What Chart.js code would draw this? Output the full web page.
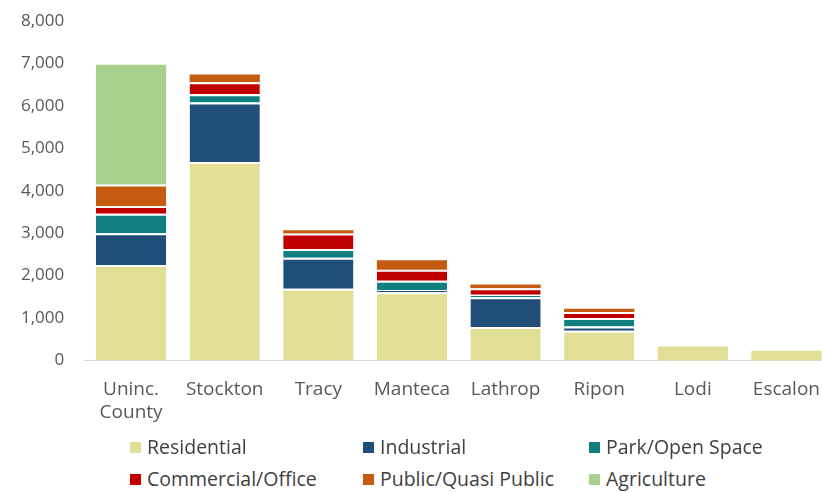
<!DOCTYPE html>
<html>
<head>
<meta charset="utf-8">
<script src="https://cdn.jsdelivr.net/npm/chart.js@4"></script>
<style>
  html, body { margin: 0; padding: 0; background: #fff; overflow: hidden; }
  #wrap { position: relative; top: -9px; width: 838px; height: 455px; }
  #legend {
    position: absolute; left: 0; top: 433px; width: 822px;
    font-family: "Open Sans", sans-serif; font-size: 19.5px; color: #404040;
  }
  .item { position: absolute; white-space: nowrap; }
  .box { display: inline-block; width: 11px; height: 11px; margin-right: 6px; vertical-align: 1px; }
</style>
</head>
<body>
<div id="wrap"><canvas id="myChart"></canvas></div>
<div id="legend"></div>
<script>
// acres by jurisdiction
var labels = [['Uninc.', 'County'], 'Stockton', 'Tracy', 'Manteca', 'Lathrop', 'Ripon', 'Lodi', 'Escalon'];
var residential = [2250, 4680, 1690, 1610, 790, 700, 330, 230];
var industrial  = [750, 1400, 730, 50, 700, 100, 0, 0];
var park        = [460, 200, 210, 220, 60, 200, 0, 0];
var commercial  = [180, 280, 360, 260, 150, 140, 0, 0];
var publicQuasi = [510, 180, 80, 220, 90, 80, 0, 0];
var agriculture = [2820, 0, 0, 0, 0, 0, 0, 0];
var yTicks = [0, 1000, 2000, 3000, 4000, 5000, 6000, 7000, 8000];

var series = [residential, industrial, park, commercial, publicQuasi, agriculture];

// white separator on top of a segment, except on the topmost one
function sepWidth(c) {
    var top = 2;
    for (var k = c.datasetIndex + 1; k < series.length; k++) {
        if (series[k][c.dataIndex] > 0) { top = 2; return { top: top, bottom: 0, left: 0, right: 0 }; }
    }
    return 0;
}

function ds(label, data, color) {
    return {
        label: label,
        data: data,
        backgroundColor: color,
        borderColor: '#ffffff',
        borderWidth: sepWidth,
        borderSkipped: false,
        barPercentage: 0.75,
        categoryPercentage: 1
    };
}

var ctx = document.getElementById('myChart').getContext('2d');
var myChart = new Chart(ctx, {
    type: 'bar',
    data: {
        labels: labels,
        datasets: [
            ds('Residential', residential, '#e1df95'),
            ds('Industrial', industrial, '#1f4e79'),
            ds('Park/Open Space', park, '#0f7f7f'),
            ds('Commercial/Office', commercial, '#c00000'),
            ds('Public/Quasi Public', publicQuasi, '#c55a11'),
            ds('Agriculture', agriculture, '#a9d18e')
        ]
    },
    options: {
        responsive: true,
        maintainAspectRatio: false,
        animation: false,
        layout: { padding: { top: 0, left: 1, right: 0, bottom: 4 } },
        plugins: {
            legend: { display: false },
            tooltip: { enabled: false }
        },
        scales: {
            x: {
                stacked: true,
                grid: { display: false, drawTicks: false },
                border: { display: true, color: '#d9d9d9', width: 1 },
                ticks: {
                    color: '#595959',
                    padding: 18,
                    maxRotation: 0,
                    autoSkip: false,
                    font: { family: 'Open Sans', size: 19 }
                }
            },
            y: {
                stacked: true,
                min: 0,
                max: 8000,
                afterBuildTicks: function(axis) {
                    axis.ticks = yTicks.map(function(v) { return { value: v }; });
                },
                grid: { display: false, drawTicks: false },
                border: { display: false },
                ticks: {
                    color: '#595959',
                    padding: 20,
                    font: { family: 'Open Sans', size: 17 },
                    callback: function(value) {
                        return value.toLocaleString('en-US');
                    }
                }
            }
        }
    }
});

// legend laid out in three columns like the original
var cols = [130, 363, 589];
var rows = [0, 32];
var legend = document.getElementById('legend');
myChart.data.datasets.forEach(function(d, i) {
    var el = document.createElement('div');
    el.className = 'item';
    el.style.left = cols[i % 3] + 'px';
    el.style.top = rows[Math.floor(i / 3)] + 'px';
    el.innerHTML = '<span class="box" style="background:' + d.backgroundColor + '"></span>' + d.label;
    legend.appendChild(el);
});
</script>
</body>
</html>
